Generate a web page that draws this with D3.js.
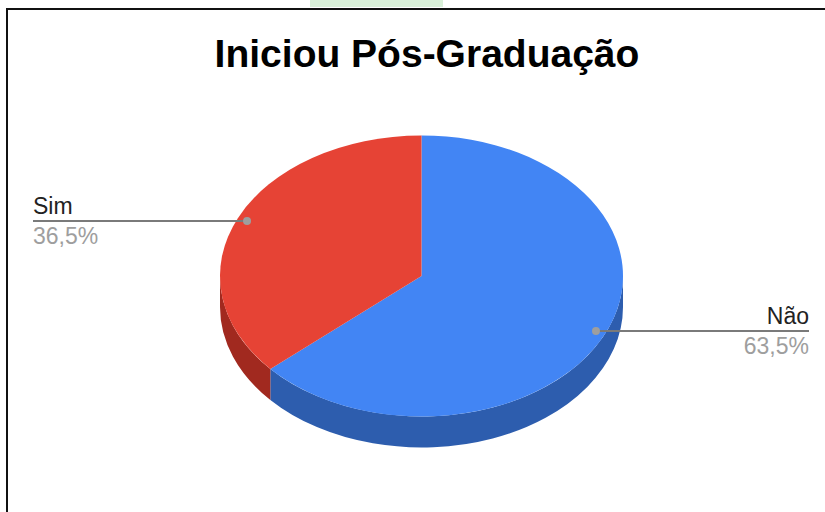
<!DOCTYPE html>
<html lang="pt">
<head>
<meta charset="UTF-8">
<title>Iniciou Pós-Graduação</title>
<script src="https://d3js.org/d3.v7.min.js"></script>
<style>
  body { margin: 0; background: #fff; }
  svg text { font-family: Arial, "Liberation Sans", sans-serif; }
</style>
</head>
<body>
<div id="chart"></div>
<script>
  // data
  const categories = ["Não", "Sim"];
  const values = [63.5, 36.5];
  const percentLabels = ["63,5%", "36,5%"];
  const titleText = "Iniciou Pós-Graduação";

  const colors = { "Não": "#4285f4", "Sim": "#e64335" };
  const sideColors = { "Não": "#2d5dae", "Sim": "#a1291f" };

  const W = 825, H = 512;
  const cx = 421.5, cy = 276, rx = 201.5, ry = 140.5, depth = 31;
  const k = ry / rx;

  const svg = d3.select("#chart").append("svg")
      .attr("width", W).attr("height", H);

  // page bits around the chart
  svg.append("rect").attr("x", 310).attr("y", 0).attr("width", 133).attr("height", 7).attr("fill", "#d9f0d9");
  svg.append("line").attr("x1", 6).attr("x2", W).attr("y1", 9).attr("y2", 9).attr("stroke", "#111").attr("stroke-width", 2);
  svg.append("line").attr("x1", 7).attr("x2", 7).attr("y1", 8).attr("y2", H).attr("stroke", "#111").attr("stroke-width", 2);

  svg.append("text")
      .attr("x", 427).attr("y", 67)
      .attr("text-anchor", "middle")
      .attr("font-size", 39).attr("font-weight", "bold")
      .attr("fill", "#000")
      .text(titleText);

  const data = categories.map((c, i) => ({ name: c, value: values[i], pct: percentLabels[i] }));
  const pie = d3.pie().value(d => d.value).sort(null);
  const arcs = pie(data);

  // scaled group: circle space -> ellipse
  const g = svg.append("g").attr("transform", `translate(${cx},${cy}) scale(1,${k})`);
  const dz = depth / k;

  // sides (only the front half, angles between PI/2 and 3PI/2)
  arcs.forEach(a => {
    const s = Math.max(a.startAngle, Math.PI / 2);
    const e = Math.min(a.endAngle, 3 * Math.PI / 2);
    if (e <= s) return;
    const p = d3.path();
    const m0 = s - Math.PI / 2, m1 = e - Math.PI / 2;
    p.moveTo(rx * Math.cos(m0), rx * Math.sin(m0));
    p.arc(0, 0, rx, m0, m1, false);
    p.lineTo(rx * Math.cos(m1), rx * Math.sin(m1) + dz);
    p.arc(0, dz, rx, m1, m0, true);
    p.closePath();
    g.append("path").attr("d", p.toString()).attr("fill", sideColors[a.data.name]);
  });

  const arc = d3.arc().innerRadius(0).outerRadius(rx);
  g.selectAll("path.top")
    .data(arcs)
    .join("path")
      .attr("class", "top")
      .attr("d", arc)
      .attr("fill", d => colors[d.data.name]);

  // leader lines and labels
  const dotR = 0.95 * rx;
  arcs.forEach(a => {
    const mid = (a.startAngle + a.endAngle) / 2;
    const dx = cx + dotR * Math.sin(mid);
    const dy = cy - dotR * Math.cos(mid) * k;
    const right = Math.sin(mid) > 0;
    const endX = right ? 809 : 33;
    svg.append("line")
        .attr("x1", dx).attr("y1", dy).attr("x2", endX).attr("y2", dy)
        .attr("stroke", "#7a7a7a").attr("stroke-width", 2);
    svg.append("circle").attr("cx", dx).attr("cy", dy).attr("r", 4).attr("fill", "#9e9e9e");
    svg.append("text")
        .attr("x", endX).attr("y", dy - 7)
        .attr("text-anchor", right ? "end" : "start")
        .attr("font-size", 23).attr("fill", "#222")
        .text(a.data.name);
    svg.append("text")
        .attr("x", endX).attr("y", dy + 23)
        .attr("text-anchor", right ? "end" : "start")
        .attr("font-size", 23).attr("fill", "#9e9e9e")
        .text(a.data.pct);
  });
</script>
</body>
</html>
